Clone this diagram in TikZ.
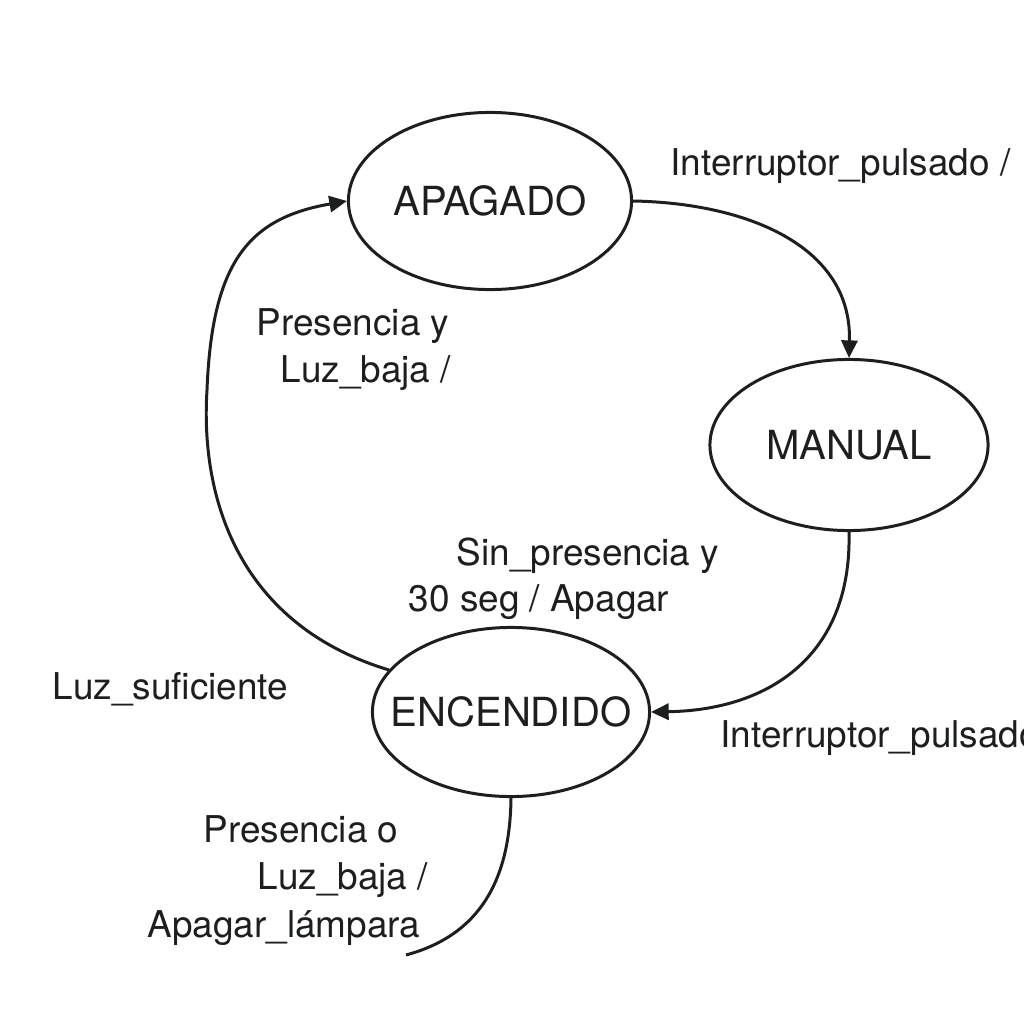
\documentclass[tikz,border=0pt]{standalone}
\usepackage{fontspec}
\setmainfont{TeX Gyre Heros}
\usetikzlibrary{shapes.geometric,arrows.meta}
\definecolor{ink}{RGB}{28,30,32}
\begin{document}
\begin{tikzpicture}[x=0.01cm,y=-0.01cm,
  state/.style={draw=ink,line width=0.85pt,ellipse,inner sep=0pt,text=ink,
    font=\fontsize{11.4}{13}\selectfont},
  lbl/.style={inner sep=0pt,anchor=base west,text=ink,font=\fontsize{10.5}{13}\selectfont},
  conn/.style={draw=ink,line width=0.85pt},
  arr/.style={conn,-{Triangle[length=5pt,width=4.6pt]}}]
\useasboundingbox[fill=white] (0,0) rectangle (1024,1024);
% states
\node[state,minimum width=2.83cm,minimum height=1.77cm] (apagado) at (490,201) {\makebox[0pt]{APAGADO}};
\node[state,minimum width=2.78cm,minimum height=1.71cm] (manual) at (849,445) {\makebox[0pt]{MANUAL}};
\node[state,minimum width=2.77cm,minimum height=1.69cm] (encendido) at (511,712) {\makebox[0pt]{ENCENDIDO}};
\coordinate (freeend) at (406,955);
% connectors
\draw[arr] (apagado.east) .. controls (745,203) and (852,245) .. (manual.north);
\draw[arr] (manual.south) .. controls (852,655) and (770,710) .. (encendido.east);
\draw[arr] (encendido.161) .. controls (240,625) and (200,500) .. (207,390)
  .. controls (212,260) and (250,218) .. (apagado.west);
\draw[conn] (encendido.south) .. controls (510,880) and (480,935) .. (freeend);
% labels
\node[lbl] (l1) at (670,175) {Interruptor\_pulsado /};
\node[lbl] (l2a) at (256,335) {Presencia y};
\node[lbl] (l2b) at (280,382) {Luz\_baja /};
\node[lbl] (l3a) at (456,565) {Sin\_presencia y};
\node[lbl] (l3b) at (408,611) {30 seg / Apagar};
\node[lbl] (l4) at (52,699) {Luz\_suficiente};
\node[lbl] (l5) at (720,747) {Interruptor\_pulsado};
\node[lbl] (l6a) at (203,842) {Presencia o};
\node[lbl] (l6b) at (257,889) {Luz\_baja /};
\node[lbl] (l6c) at (147,937) {Apagar\_lámpara};
\end{tikzpicture}
\end{document}
